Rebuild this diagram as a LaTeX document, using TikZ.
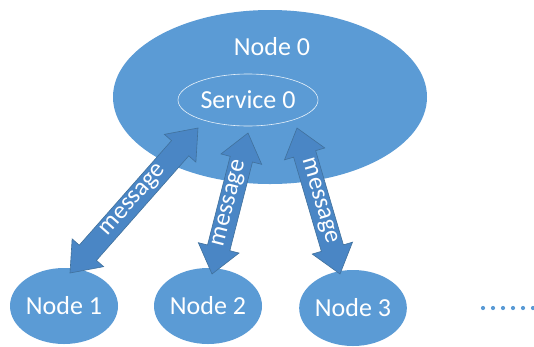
\documentclass[tikz,border=0pt]{standalone}
\usepackage{fontspec}
\setmainfont{Carlito}
\usetikzlibrary{shapes.geometric,calc}

\definecolor{nodeblue}{HTML}{5B9BD5}
\definecolor{arrowblue}{HTML}{4A86C5}
\definecolor{arrowedge}{HTML}{41719C}

\tikzset{
  bubble/.style={ellipse, fill=nodeblue, draw=none, inner sep=0pt,
    text=white, font=\fontsize{26}{28}\selectfont},
  service/.style={ellipse, draw=white!85!nodeblue, line width=0.6pt,
    inner sep=0pt, text=white, font=\fontsize{26}{28}\selectfont},
  caption/.style={text=white, font=\fontsize{26}{28}\selectfont, inner sep=0pt},
  blockarrow/.style={fill=arrowblue, draw=arrowedge, line width=0.6pt,
    line join=miter},
  msg/.style={text=white, font=\fontsize{25}{26}\selectfont, inner sep=0pt},
  dot/.style={circle, fill=nodeblue, inner sep=0pt, minimum size=4.2pt}
}

% double-headed block arrow between two named points, label along it
% #1 start, #2 end, #3 label
\newcommand\msgarrow[3]{%
  \coordinate (#1-c) at ($(#1)!27pt!(#2)$);
  \coordinate (#1-d) at ($(#2)!27pt!(#1)$);
  \draw[blockarrow]
    (#1)
    -- ($(#1-c)!21pt!90:(#2)$)
    -- ($(#1-c)!11.5pt!90:(#2)$)
    -- ($(#1-d)!11.5pt!-90:(#1)$)
    -- ($(#1-d)!21pt!-90:(#1)$)
    -- (#2)
    -- ($(#1-d)!21pt!90:(#1)$)
    -- ($(#1-d)!11.5pt!90:(#1)$)
    -- ($(#1-c)!11.5pt!-90:(#2)$)
    -- ($(#1-c)!21pt!-90:(#2)$)
    -- cycle;
  \path let \p1=($(#2)-(#1)$), \n1={atan2(\y1,\x1)} in
    node[msg, rotate=\n1] at ($(#1)!0.5!(#2)$) {#3};%
}

\begin{document}
\begin{tikzpicture}[x=1pt, y=-1pt]
  \useasboundingbox[fill=white] (0,0) rectangle (534,346);

  % central node with its service
  \node[bubble, minimum width=314pt, minimum height=174pt] (n0) at (270,97) {};
  \node[caption] (n0lbl) at (272,47) {Node 0};
  \node[service, minimum width=140pt, minimum height=52pt] (s0) at (248,100) {Service 0};

  % client nodes
  \node[bubble, minimum width=108pt, minimum height=76pt] (n1) at (64,306) {Node 1};
  \node[bubble, minimum width=108pt, minimum height=76pt] (n2) at (208,306) {Node 2};
  \node[bubble, minimum width=106pt, minimum height=76pt] (n3) at (353,308) {Node 3};

  % arrow end points
  \coordinate (a1) at ($(n1.center)+(6,-33)$);
  \coordinate (b1) at ($(s0.center)+(-50,28)$);
  \coordinate (a2) at ($(n2.center)+(4,-32)$);
  \coordinate (b2) at ($(s0.center)+(0,33)$);
  \coordinate (a3) at ($(s0.center)+(49,28)$);
  \coordinate (b3) at ($(n3.center)+(-13,-34)$);

  \msgarrow{a1}{b1}{message}
  \msgarrow{a2}{b2}{message}
  \msgarrow{a3}{b3}{message}

  % ellipsis
  \foreach \i in {0,...,5}
    \node[dot] (dot\i) at (483+10*\i,308) {};
\end{tikzpicture}
\end{document}
